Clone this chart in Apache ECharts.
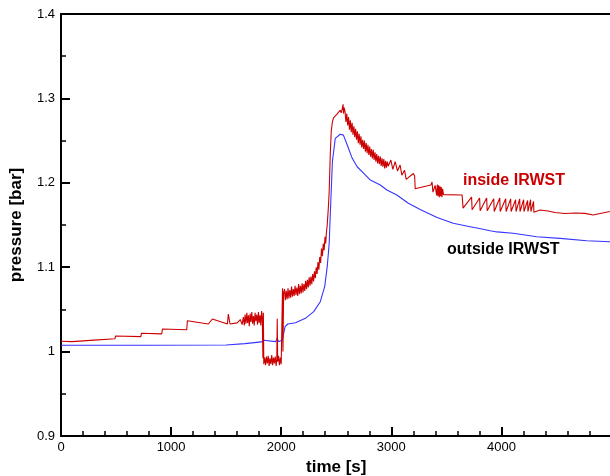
<!DOCTYPE html>
<html>
<head>
<meta charset="utf-8">
<script src="https://cdn.jsdelivr.net/npm/echarts@6/dist/echarts.min.js"></script>
<style>
html,body{margin:0;padding:0;background:#fff;overflow:hidden;}
#chart{width:610px;height:476px;}
</style>
</head>
<body>
<div id="chart"></div>
<script>
// ---- data (time [s], pressure [bar]) ----
const xTicks = [0, 1000, 2000, 3000, 4000];
const yTicks = [0.9, 1.0, 1.1, 1.2, 1.3, 1.4];

const insideTime = [
  0,100,104,300,304,490,495,725,730,915,921,1142,1148,1338,1375,1511,1520,1535,1600,1629,1645,
  1656,1665,1672,1680,1688,1695,1703,1710,1718,1725,1733,1740,1748,1755,1763,1770,1778,1785,1793,1800,1808,1815,1822,1828,
  1834,1838,1842,1850,1858,1866,1874,1882,1890,1898,1906,1914,1922,1930,1938,1946,1954,1960,1964,1968,1976,1984,1992,2000,2006,2012,2016,2022,
  2030,2038,2046,2054,2062,2070,2078,2086,2094,2102,2110,2118,2126,2134,2142,2150,2158,2166,2174,2182,2190,2198,2206,2214,2222,2230,2238,2246,2254,2262,2270,2278,2286,2294,2302,2310,2318,2326,2334,2342,2350,2358,2366,2374,2382,2390,2398,2404,2410,
  2418,2428,2436,2446,2455,2465,2475,2490,2505,2520,2535,2545,2555,2562,2566,2572,
  2580,2588,2596,2604,2612,2620,2628,2636,2644,2652,2660,2668,2676,2684,2692,2700,2708,2716,2724,2732,2740,2748,2756,2764,2772,2780,2788,2796,2804,2812,2820,2828,2836,2844,2852,2860,2868,2876,2884,2892,2900,2908,2916,2924,2932,2940,2948,2956,2964,
  2972,2996,3014,3035,3056,3080,3096,3120,3126,3135,3200,3212,3217,3330,3360,3370,3378,3398,
  3405,3412,3418,3424,3430,3436,3442,3448,3454,3460,3466,3474,3489,3643,
  3652,3729,3734,3802,3807,3866,3871,3930,3935,3985,3989,4039,4043,4084,4088,4129,4133,4166,4169,4202,4205,4238,4241,4265,4268,4292,4295,
  4351,4424,4487,4578,4669,4759,4832,4896,4986,5000
];
const insidePressure = [
  1.0122,1.0118,1.0141,1.0136,1.0158,1.0152,1.0185,1.0178,1.0217,1.0210,1.0268,1.0258,1.0366,1.0327,1.0386,1.0327,1.0445,1.0327,1.034,1.038,1.032,
  1.041,1.031,1.044,1.033,1.046,1.034,1.043,1.030,1.045,1.035,1.047,1.033,1.042,1.031,1.046,1.036,1.044,1.032,1.047,1.034,1.043,1.031,1.048,1.040,
  0.992,1.046,0.985,0.993,0.984,0.994,0.986,0.995,0.983,0.992,0.985,0.996,0.984,0.993,0.986,0.994,0.983,0.991,1.039,0.988,0.995,0.984,0.993,0.985,0.983,1.075,1.000,1.070,
  1.074,1.061,1.072,1.062,1.075,1.063,1.073,1.064,1.077,1.065,1.074,1.066,1.078,1.067,1.076,1.066,1.080,1.068,1.078,1.069,1.081,1.070,1.080,1.072,1.084,1.074,1.085,1.076,1.088,1.078,1.089,1.080,1.092,1.083,1.095,1.087,1.100,1.092,1.106,1.097,1.112,1.105,1.122,1.113,1.128,1.120,1.136,1.128,1.140,
  1.150,1.170,1.190,1.235,1.262,1.272,1.277,1.279,1.281,1.283,1.286,1.283,1.288,1.293,1.282,1.289,
  1.284,1.272,1.282,1.268,1.278,1.263,1.274,1.260,1.271,1.257,1.267,1.254,1.264,1.251,1.261,1.247,1.258,1.245,1.255,1.242,1.251,1.240,1.250,1.237,1.247,1.235,1.245,1.233,1.243,1.231,1.240,1.229,1.239,1.227,1.236,1.225,1.234,1.223,1.232,1.222,1.231,1.220,1.229,1.219,1.228,1.217,1.226,1.218,1.225,
  1.2196,1.227,1.216,1.225,1.214,1.221,1.209,1.215,1.213,1.204,1.211,1.208,1.193,1.1965,1.1975,1.201,1.189,1.197,
  1.196,1.185,1.198,1.184,1.197,1.183,1.196,1.184,1.195,1.183,1.193,1.186,1.187,1.1855,
  1.170,1.183,1.168,1.182,1.167,1.182,1.167,1.181,1.166,1.182,1.166,1.181,1.166,1.181,1.166,1.180,1.166,1.181,1.166,1.180,1.166,1.179,1.166,1.180,1.166,1.178,1.165,
  1.1678,1.1666,1.1648,1.1636,1.1642,1.1638,1.1618,1.1636,1.166,1.1665
];

const outsideTime = [
  0,800,1500,1670,1820,1840,1950,1964,1975,1992,2010,2035,2060,2130,2220,2295,2355,2395,2418,2436,2445,2465,2491,2536,2565,2600,2645,
  2690,2750,2810,2900,2960,3050,3155,3262,3416,3562,3716,3800,3806,3812,3897,3960,3966,3972,4106,4321,4533,4775,4986,5000
];
const outsidePressure = [
  1.0075,1.0076,1.0078,1.0095,1.0115,1.0135,1.0118,1.0158,1.0118,1.0115,1.0137,1.0295,1.0327,1.0342,1.0394,1.0473,1.0591,1.0769,1.1006,1.1283,1.160,1.225,1.2527,1.2575,1.2565,1.2448,1.229,
  1.219,1.2112,1.2033,1.1974,1.1915,1.1855,1.1757,1.1684,1.1589,1.152,1.148,1.1458,1.1478,1.1452,1.1432,1.1418,1.1436,1.1414,1.1402,1.1361,1.1342,1.1314,1.1302,1.1300
];

const insideData = insideTime.map((t, i) => [t, insidePressure[i]]);
const outsideData = outsideTime.map((t, i) => [t, outsidePressure[i]]);

const FONT = '"Liberation Sans", Arial, sans-serif';
const chart = echarts.init(document.getElementById('chart'), null, {renderer: 'canvas', width: 610, height: 476});
chart.setOption({
  animation: false,
  backgroundColor: '#ffffff',
  grid: {left: 61, top: 14, right: -1.5, bottom: 40, show: false, containLabel: false, outerBoundsMode: 'none'},
  xAxis: [{
    type: 'value', min: xTicks[0], max: 5000, interval: 1000, position: 'bottom',
    name: 'time [s]', nameLocation: 'middle', nameGap: 16,
    nameTextStyle: {fontFamily: FONT, fontWeight: 'bold', fontSize: 17, color: '#000'},
    axisLine: {show: true, onZero: false, lineStyle: {color: '#000', width: 2}},
    axisTick: {show: true, inside: true, length: 9, lineStyle: {color: '#000', width: 2}},
    minorTick: {show: true, splitNumber: 5, length: 5, lineStyle: {color: '#000', width: 1.5}},
    axisLabel: {fontFamily: FONT, fontSize: 13, color: '#000', margin: 5, showMaxLabel: false,
                formatter: v => String(v)},
    splitLine: {show: false}
  }, {
    type: 'value', min: xTicks[0], max: 5000, position: 'top',
    axisLine: {show: true, onZero: false, lineStyle: {color: '#000', width: 2}},
    axisTick: {show: false}, axisLabel: {show: false}, splitLine: {show: false}
  }],
  yAxis: {
    type: 'value', min: yTicks[0], max: yTicks[yTicks.length - 1], interval: 0.1,
    name: 'pressure [bar]', nameLocation: 'middle', nameGap: 36,
    nameTextStyle: {fontFamily: FONT, fontWeight: 'bold', fontSize: 17, color: '#000'},
    axisLine: {show: true, onZero: false, lineStyle: {color: '#000', width: 2}},
    axisTick: {show: true, inside: true, length: 9, lineStyle: {color: '#000', width: 2}},
    minorTick: {show: true, splitNumber: 2, length: 5, lineStyle: {color: '#000', width: 1.5}},
    axisLabel: {fontFamily: FONT, fontSize: 13, color: '#000', margin: 6},
    splitLine: {show: false}
  },
  series: [
    {type: 'line', name: 'outside IRWST', data: outsideData, showSymbol: false, symbol: 'none',
     lineStyle: {color: '#3535ff', width: 1.1}, clip: true, z: 2},
    {type: 'line', name: 'inside IRWST', data: insideData, showSymbol: false, symbol: 'none',
     lineStyle: {color: '#cc0000', width: 1.1}, clip: true, z: 3}
  ],
  graphic: [
    {type: 'text', left: 463, top: 173, z: 10,
     style: {text: 'inside IRWST', font: 'bold 16px "Liberation Sans", Arial, sans-serif', fill: '#cc0000'}},
    {type: 'text', left: 447, top: 242, z: 10,
     style: {text: 'outside IRWST', font: 'bold 16px "Liberation Sans", Arial, sans-serif', fill: '#000'}}
  ]
});
</script>
</body>
</html>
